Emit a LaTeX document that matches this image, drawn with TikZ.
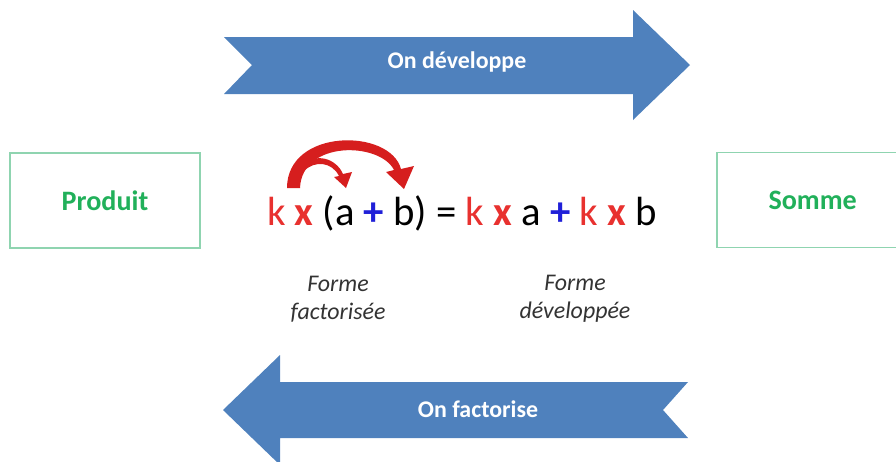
\documentclass[tikz,border=0pt]{standalone}
\usepackage{fontspec}
\setmainfont{Carlito}
\definecolor{arrowblue}{HTML}{4F81BD}
\definecolor{textgreen}{HTML}{21B05A}
\definecolor{linegreen}{HTML}{8FD4B0}
\definecolor{kred}{HTML}{E8312F}
\definecolor{curvered}{HTML}{D61E1E}
\definecolor{plusblue}{HTML}{2020D8}
\definecolor{notegray}{HTML}{333333}

\begin{document}
\begin{tikzpicture}
    [x = .02cm, y = -.02cm,
     every node/.style = {inner sep = 0pt},
     arrowtext/.style = {text = white, font = \fontsize{13.6}{16}\selectfont\bfseries},
     sidebox/.style = {draw = linegreen, line width = .8pt, text = textgreen,
       minimum height = 1.9cm, font = \fontsize{16}{19}\selectfont\bfseries},
     note/.style = {text = notegray, align = center,
       font = \fontsize{13.6}{16}\selectfont\itshape}]
    \useasboundingbox (0,0) rectangle (896,461);

    % blue arrows
    \fill[arrowblue] (224,37) -- (633,37) -- (633,10) -- (690,65) -- (633,120)
      -- (633,94) -- (224,94) -- (252,65) -- cycle;
    \fill[arrowblue] (688,382) -- (280,382) -- (280,355) -- (223,410) -- (280,465)
      -- (280,438) -- (688,438) -- (663,410) -- cycle;
    \node[arrowtext] (dev) at (457,62) {On développe};
    \node[arrowtext] (fact) at (478,409) {On factorise};

    \node[sidebox, minimum width = 3.8cm] (prod) at (105,200.5) {Produit};
    \node[sidebox, minimum width = 3.86cm, text width = 3.86cm, align = left] (som) at (813.5,200)
      {\hspace*{1.03cm}Somme};

    \node (eq) at (462,213) {\fontsize{23.2}{27}\selectfont
      \textcolor{kred}{k \textbf{x}} (a \textcolor{plusblue}{\textbf{+}} b) =
      \textcolor{kred}{k \textbf{x}} a \textcolor{plusblue}{\textbf{+}}
      \textcolor{kred}{k \textbf{x}} b};

    % red curved arrows
    \fill[curvered] (287,188) .. controls (287,128) and (390,128) .. (401,169)
      -- (414,166) -- (404,189) -- (386,172) -- (394,170)
      .. controls (380,142) and (302,140) .. (300,188) -- cycle;
    \fill[curvered] (302,166) .. controls (315,152) and (336,158) .. (343,174)
      -- (352,172) -- (346,188) -- (334,177) -- (339,176)
      .. controls (332,162) and (315,160) .. (304,171) -- cycle;

    \node[note] (ff) at (338,299) {Forme\\factorisée};
    \node[note] (fd) at (575,299) {Forme\\développée};
\end{tikzpicture}
\end{document}
